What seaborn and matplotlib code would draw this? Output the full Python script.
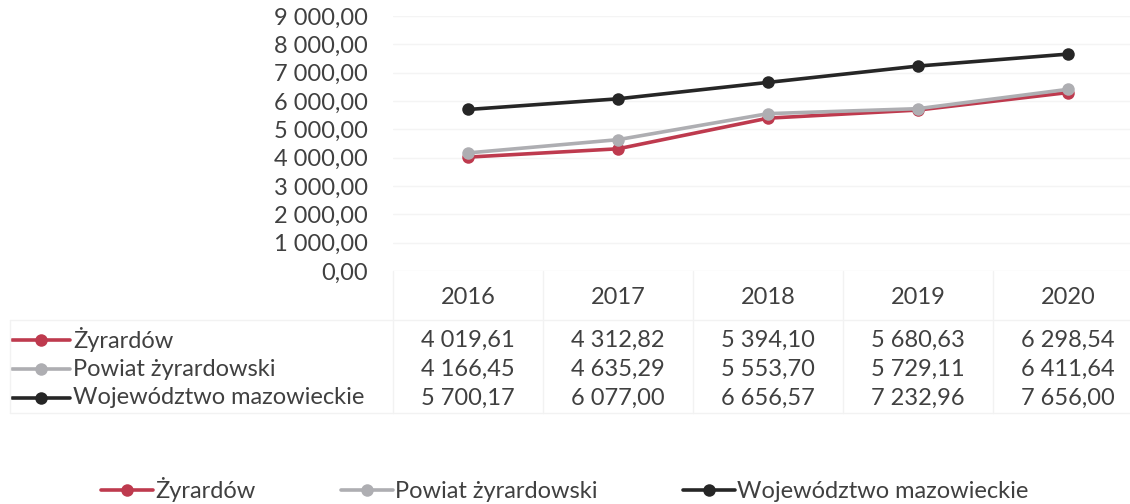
import matplotlib
matplotlib.use("Agg")
import matplotlib.pyplot as plt
import matplotlib.transforms as mtransforms
from matplotlib.lines import Line2D
import seaborn as sns
import pandas as pd

years = ["2016", "2017", "2018", "2019", "2020"]
series_names = ["Żyrardów", "Powiat żyrardowski", "Województwo mazowieckie"]
zyrardow = [4019.61, 4312.82, 5394.10, 5680.63, 6298.54]
powiat = [4166.45, 4635.29, 5553.70, 5729.11, 6411.64]
wojewodztwo = [5700.17, 6077.00, 6656.57, 7232.96, 7656.00]
y_ticks = [0, 1000, 2000, 3000, 4000, 5000, 6000, 7000, 8000, 9000]

colors = ["#BE3A4E", "#AEAEB2", "#262626"]
values = [zyrardow, powiat, wojewodztwo]


def fmt(v):
    s = f"{v:,.2f}"
    return s.replace(",", " ").replace(".", ",")


df = pd.DataFrame({
    "Rok": years * 3,
    "Wartość": zyrardow + powiat + wojewodztwo,
    "Seria": sum([[n] * len(years) for n in series_names], []),
})

sns.set_theme(style="white")
plt.rcParams["font.family"] = ["Lato", "DejaVu Sans"]
FS = 17
TXT = "#404040"
LW = 2.6
MS = 9

W, H = 1130, 504
fig = plt.figure(figsize=(W / 100, H / 100), dpi=100)
ax_left, ax_right = 393, 1143
ax_top, ax_bot = 16, 271
ax = fig.add_axes([ax_left / W, 1 - ax_bot / H, (ax_right - ax_left) / W, (ax_bot - ax_top) / H])

sns.lineplot(data=df, x="Rok", y="Wartość", hue="Seria", hue_order=series_names,
             palette=colors, marker="o", markersize=MS, linewidth=LW,
             markeredgewidth=0, sort=False, ax=ax, legend=False)

ax.set_xlim(-0.5, len(years) - 0.5)
ax.set_ylim(0, 9000)
ax.set_yticks(y_ticks)
ax.set_yticklabels([fmt(t) for t in y_ticks])
ax.tick_params(axis="y", length=0, pad=18, labelsize=FS, labelcolor=TXT)
ax.set_xticks([])
ax.set_xlabel("")
ax.set_ylabel("")
for sp in ax.spines.values():
    sp.set_visible(False)
ax.grid(axis="y", color="#F4F4F4", linewidth=1)
ax.set_axisbelow(True)

# data table below the chart
tr = mtransforms.blended_transform_factory(ax.transData, fig.transFigure)
def fy(px):
    return 1 - px / H

header_y = 298
row_ys = [340, 369, 398]
for i, y in enumerate(years):
    ax.text(i, fy(header_y), y, transform=tr, ha="center", va="center",
            fontsize=FS, color=TXT, clip_on=False)
for r, vals in enumerate(values):
    for i, v in enumerate(vals):
        ax.text(i, fy(row_ys[r]), fmt(v), transform=tr, ha="center", va="center",
                fontsize=FS, color=TXT, clip_on=False)
    fig.text(73 / W, fy(row_ys[r]), series_names[r], ha="left", va="center",
             fontsize=FS, color=TXT)
    fig.add_artist(Line2D([12 / W, 70 / W], [fy(row_ys[r])] * 2, color=colors[r],
                          linewidth=LW, transform=fig.transFigure))
    fig.add_artist(Line2D([41 / W], [fy(row_ys[r])], color=colors[r], marker="o",
                          markersize=MS, markeredgewidth=0, linestyle="none",
                          transform=fig.transFigure))

# faint table borders
border = "#F2F2F2"
fig.add_artist(Line2D([10 / W, 1 - 0.0001], [fy(320)] * 2, color=border, lw=1, transform=fig.transFigure))
fig.add_artist(Line2D([10 / W, 1 - 0.0001], [fy(413)] * 2, color=border, lw=1, transform=fig.transFigure))
fig.add_artist(Line2D([10 / W] * 2, [fy(320), fy(413)], color=border, lw=1, transform=fig.transFigure))
for k in range(len(years) + 1):
    ax.add_artist(Line2D([k - 0.5] * 2, [fy(ax_bot), fy(413)], color=border, lw=1,
                         transform=tr, clip_on=False))

handles = [Line2D([], [], color=c, marker="o", markersize=MS, markeredgewidth=0, linewidth=LW)
           for c in colors]
fig.legend(handles, series_names, loc="center", bbox_to_anchor=(0.5, fy(490)), ncol=3,
           frameon=False, fontsize=FS, handlelength=2.2, handletextpad=0.1,
           columnspacing=3.6, labelcolor=TXT)

fig.savefig("out.png", dpi=100, facecolor="white")
